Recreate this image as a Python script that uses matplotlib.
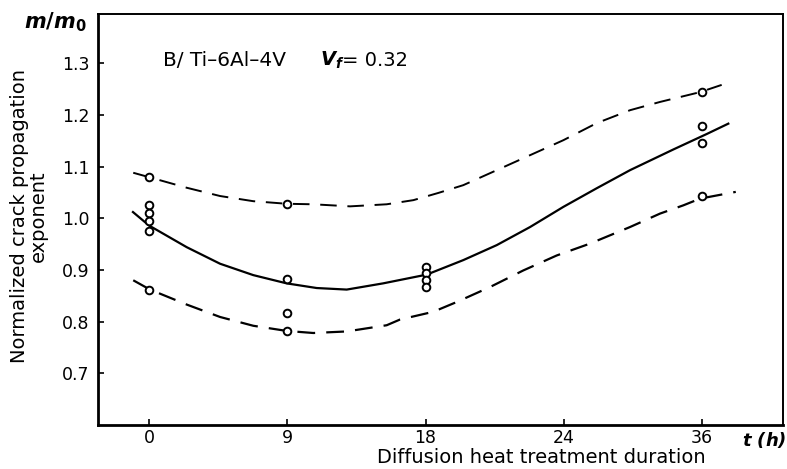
import numpy as np
import matplotlib
matplotlib.use("Agg")
import matplotlib.pyplot as plt

# x axis is not linear: ticks equally spaced, labelled in hours
tick_pos = [0, 1, 2, 3, 4]
tick_lab = ["0", "9", "18", "24", "36"]

# measured points (x in tick-position units)
pt_x = [0, 0, 0, 0, 0, 0,
        1, 1, 1, 1,
        2, 2, 2, 2,
        4, 4, 4, 4]
pt_y = [1.079, 1.025, 1.011, 0.994, 0.975, 0.862,
        1.028, 0.882, 0.816, 0.781,
        0.906, 0.895, 0.881, 0.867,
        1.244, 1.178, 1.145, 1.044]

# mean curve (solid)
mean_x = [-0.116, 0.0, 0.273, 0.514, 0.754, 0.996, 1.213, 1.430, 1.693, 2.009,
          2.273, 2.515, 2.756, 2.997, 3.238, 3.479, 3.792, 4.034, 4.190]
mean_y = [1.012, 0.986, 0.944, 0.912, 0.890, 0.874, 0.865, 0.862, 0.874, 0.891,
          0.919, 0.948, 0.983, 1.022, 1.058, 1.093, 1.133, 1.163, 1.183]

# upper bound (dashed)
up_x = [-0.114, 0.007, 0.273, 0.514, 0.754, 0.996, 1.188, 1.454, 1.719, 1.912,
        2.093, 2.273, 2.515, 2.756, 2.997, 3.238, 3.479, 3.696, 3.986, 4.142]
up_y = [1.088, 1.079, 1.059, 1.043, 1.033, 1.028, 1.027, 1.023, 1.027, 1.035,
        1.049, 1.064, 1.093, 1.122, 1.151, 1.184, 1.209, 1.225, 1.244, 1.258]

# lower bound (dashed)
lo_x = [-0.114, 0.007, 0.273, 0.514, 0.754, 0.996, 1.188, 1.430, 1.719, 1.815,
        2.056, 2.226, 2.467, 2.707, 2.949, 3.190, 3.479, 3.696, 3.865, 3.986, 4.244]
lo_y = [0.880, 0.862, 0.833, 0.809, 0.792, 0.782, 0.778, 0.781, 0.793, 0.804,
        0.819, 0.838, 0.867, 0.899, 0.928, 0.951, 0.983, 1.009, 1.025, 1.038, 1.051]

plt.rcParams['font.family'] = ['DejaVu Sans']
plt.rcParams['mathtext.fontset'] = 'custom'
plt.rcParams['mathtext.it'] = 'DejaVu Sans:italic:bold'
plt.rcParams['mathtext.rm'] = 'DejaVu Sans:bold'

fig = plt.figure(figsize=(7.87, 4.69), dpi=100)
ax = fig.add_axes([0.1245, 0.0938, 0.8705, 0.8762])

ax.plot(mean_x, mean_y, color='k', lw=1.6)
ax.plot(up_x, up_y, color='k', lw=1.4, dashes=(8.5, 5.5))
ax.plot(lo_x, lo_y, color='k', lw=1.6, dashes=(8, 5))
ax.plot(pt_x, pt_y, 'o', ms=5.5, mfc='white', mec='k', mew=1.4, ls='none')

ax.set_xlim(-0.369, 4.586)
ax.set_ylim(0.6, 1.395)
ax.set_xticks(tick_pos)
ax.set_xticklabels(tick_lab)
ax.set_yticks([0.7, 0.8, 0.9, 1.0, 1.1, 1.2, 1.3])
ax.set_yticklabels(["0.7", "0.8", "0.9", "1.0", "1.1", "1.2", "1.3"])
ax.tick_params(axis='y', direction='in', length=4, width=1.2, labelsize=12.5, pad=6)
ax.tick_params(axis='x', direction='in', length=4, width=1.2, labelsize=12.5, pad=3)
for s in ['left', 'bottom']:
    ax.spines[s].set_linewidth(2)
for s in ['top', 'right']:
    ax.spines[s].set_linewidth(1.4)

fig.text(29 / 787, 1 - 216 / 469, "Normalized crack propagation\nexponent",
         rotation=90, ha='center', va='center', fontsize=14, linespacing=0.95)
fig.text(55 / 787, 1 - 22 / 469, "$m/m_0$", ha='center', va='center', fontsize=15)
fig.text(541 / 787, 1 - 463 / 469, "Diffusion heat treatment duration",
         ha='center', va='baseline', fontsize=14)
fig.text(764 / 787, 1 - 440 / 469, "$t$ (h)", ha='center', va='center',
         fontsize=13, fontweight='bold', style='italic')

fig.text(163 / 787, 1 - 60 / 469, "B/ Ti–6Al–4V", ha='left', va='center', fontsize=14.5)
fig.text(320 / 787, 1 - 60 / 469, "$V_f$", ha='left', va='center', fontsize=14)
fig.text(342 / 787, 1 - 60 / 469, "= 0.32", ha='left', va='center', fontsize=14)

fig.savefig("out.png", dpi=100)
